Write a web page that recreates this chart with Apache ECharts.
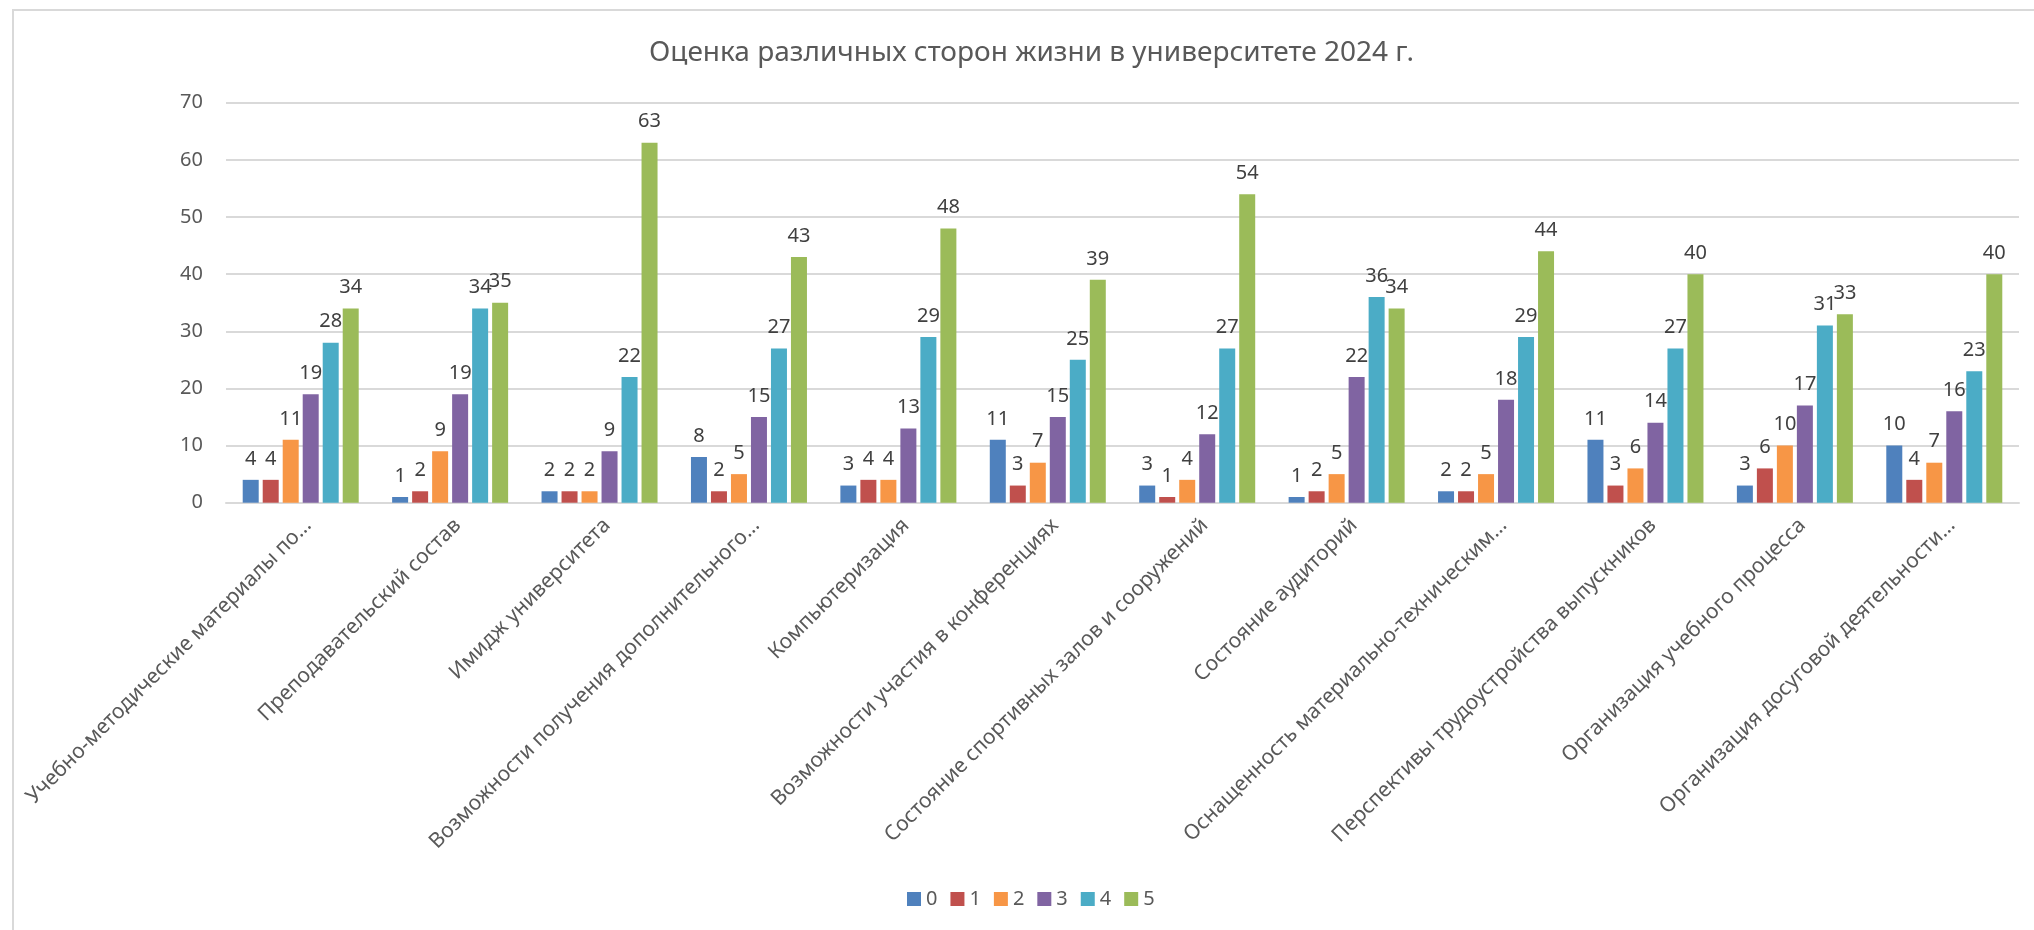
<!DOCTYPE html>
<html>
<head>
<meta charset="utf-8">
<script src="https://cdn.jsdelivr.net/npm/echarts@6/dist/echarts.min.js"></script>
<style>
  html, body { margin: 0; padding: 0; background: #fff; }
  #container { width: 2034px; height: 930px; }
</style>
</head>
<body>
<div id="container"></div>
<script>
// данные
var categories = [
   'Учебно-методические материалы по…',
   'Преподавательский состав',
   'Имидж университета',
   'Возможности получения дополнительного…',
   'Компьютеризация',
   'Возможности участия в конференциях',
   'Состояние спортивных залов и сооружений',
   'Состояние аудиторий',
   'Оснащенность материально-техническим…',
   'Перспективы трудоустройства выпускников',
   'Организация учебного процесса',
   'Организация досуговой деятельности…'
];
var seriesNames = ['0', '1', '2', '3', '4', '5'];
var score0 = [4, 1, 2, 8, 3, 11, 3, 1, 2, 11, 3, 10];
var score1 = [4, 2, 2, 2, 4, 3, 1, 2, 2, 3, 6, 4];
var score2 = [11, 9, 2, 5, 4, 7, 4, 5, 5, 6, 10, 7];
var score3 = [19, 19, 9, 15, 13, 15, 12, 22, 18, 14, 17, 16];
var score4 = [28, 34, 22, 27, 29, 25, 27, 36, 29, 27, 31, 23];
var score5 = [34, 35, 63, 43, 48, 39, 54, 34, 44, 40, 33, 40];
var yTicks = [0, 10, 20, 30, 40, 50, 60, 70];

var colors = ['#4F81BD', '#C0504D', '#F79646', '#8064A2', '#4BACC6', '#9BBB59'];
var allData = [score0, score1, score2, score3, score4, score5];
var font = '"Noto Sans", "DejaVu Sans", sans-serif';

var dom = document.getElementById('container');
var myChart = echarts.init(dom, null, { renderer: 'canvas' });

var series = seriesNames.map(function (name, i) {
   return {
      name: name,
      type: 'bar',
      data: allData[i],
      barWidth: 16,
      barGap: '25%',
      itemStyle: { color: colors[i] },
      label: {
         show: true,
         position: 'top',
         distance: 11,
         fontSize: 20,
         fontFamily: font,
         color: '#404040'
      }
   };
});

var option = {
   animation: false,
   backgroundColor: '#fff',
   color: colors,
   title: {
      text: 'Оценка различных сторон жизни в университете 2024 г.',
      left: 644,
      top: 34,
      textStyle: {
         fontSize: 28,
         fontWeight: 'normal',
         fontFamily: font,
         color: '#595959'
      }
   },
   legend: {
      data: seriesNames,
      left: 902,
      top: 884,
      itemWidth: 14,
      itemHeight: 14,
      itemGap: 13,
      icon: 'rect',
      textStyle: { fontSize: 20, fontFamily: font, color: '#595959' }
   },
   grid: {
      left: 226,
      right: 15,
      top: 102.7,
      bottom: 427.3
   },
   xAxis: {
      type: 'category',
      data: categories,
      axisTick: { show: false },
      axisLine: { lineStyle: { color: '#D9D9D9', width: 2 } },
      axisLabel: {
         interval: 0,
         rotate: 45,
         margin: 12,
         verticalAlign: 'top',
         fontSize: 21,
         fontFamily: font,
         color: '#595959'
      }
   },
   yAxis: {
      type: 'value',
      min: yTicks[0],
      max: yTicks[yTicks.length - 1],
      interval: 10,
      axisLine: { show: false },
      axisTick: { show: false },
      splitLine: { lineStyle: { color: '#D9D9D9', width: 2 } },
      axisLabel: {
         margin: 23,
         fontSize: 20,
         fontFamily: font,
         color: '#595959'
      }
   },
   graphic: [{
      type: 'rect',
      shape: { x: 13, y: 10, width: 2100, height: 1000 },
      style: { fill: 'none', stroke: '#D9D9D9', lineWidth: 2 },
      silent: true
   }],
   series: series
};

myChart.setOption(option);
window.addEventListener('resize', myChart.resize);
</script>
</body>
</html>
